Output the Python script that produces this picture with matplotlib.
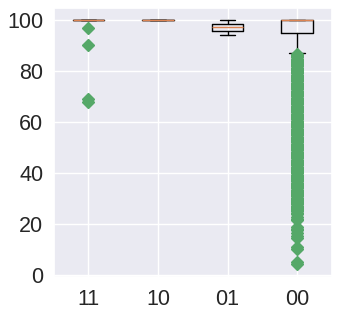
import matplotlib
matplotlib.use('Agg')
import matplotlib.pyplot as plt
import seaborn as sns

sns.set_theme(style='darkgrid', color_codes=True)
plt.rcParams['font.family'] = ['Liberation Sans', 'DejaVu Sans']

labels = ['11', '10', '01', '00']
medians = [100, 100, 97.4, 100]
q1 = [100, 100, 95.8, 95.0]
q3 = [100, 100, 98.4, 100]
whis_lo = [100, 100, 94.2, 87.0]
whis_hi = [100, 100, 100, 100]
fliers = [
    [97, 90, 69, 68],
    [],
    [],
    [86.7, 86.3, 85.8, 85.4, 84.9, 84.5, 84, 83.6, 83.1, 82.7, 82.2, 81.8,
     81.3, 80.9, 80.4, 80, 79.5, 79.1, 78.6, 78.2, 77.7, 77.3, 76.8, 76.4,
     75.9, 75.5, 75, 74.6, 74.1, 73.7, 73.2, 72.8, 72.3, 71.9, 71.4, 71,
     70.5, 70.1, 69.6, 69.2, 68.7, 68.3, 67.8, 67.4, 66.9, 66.5, 66, 65.6,
     65.1, 64.7, 64.2, 63.8, 63.3, 62.9, 62.4, 62, 61.5, 61.1, 60.6, 60.2,
     59.7, 59.3, 58.8, 58.4, 57.9, 57.5, 57, 56.6, 56.1, 55.7, 55.2, 54.8,
     54.3, 53.9, 53.4, 53, 52.5, 52.1, 51.6, 51.2, 50.7, 50.3, 49.8, 49.4,
     48.9, 48.5, 48, 47.6, 47.1, 46.7, 46.2, 45.8, 45.3, 44.9, 44.4, 44,
     43.5, 43.1, 42.6, 42.2, 41.7, 41.3, 40.8, 40.4, 39.9, 39.5, 39, 38.6,
     38.1, 37.7, 37.2, 36.8, 36.3, 35.9, 35.4, 35, 34.5, 34.1, 33.6, 33.2,
     32.7, 32.3, 31.8, 31.4, 30.9, 30.5, 30, 29.6, 29.1, 28.7, 28.2, 27.8,
     27.3, 26.9, 26.4, 26, 25.5, 25.1, 24.6, 24.2, 22.8, 22.2, 21.6, 18.9,
     18.2, 17.6, 16.5, 15.4, 14.6, 11.1, 10.2, 5.1, 4.3],
]

stats = []
for i in range(len(labels)):
    stats.append(dict(label=labels[i], med=medians[i], q1=q1[i], q3=q3[i],
                      whislo=whis_lo[i], whishi=whis_hi[i], fliers=fliers[i]))

fig = plt.figure(figsize=(3.39, 3.15), dpi=100)
ax = fig.add_axes([0.158, 0.1216, 0.821, 0.854])
ax.bxp(stats, widths=0.45,
       boxprops=dict(color='black'), whiskerprops=dict(color='black'),
       capprops=dict(color='black'), medianprops=dict(color='C1'),
       flierprops=dict(marker='D', markerfacecolor='g', markeredgecolor='g',
                       linestyle='none', markersize=6))
ax.set_yticks([0, 20, 40, 60, 80, 100])
ax.tick_params(axis='y', labelsize=15.5, pad=1.5)
ax.tick_params(axis='x', labelsize=15.5, pad=2.5)
fig.savefig('out.png', dpi=100)
